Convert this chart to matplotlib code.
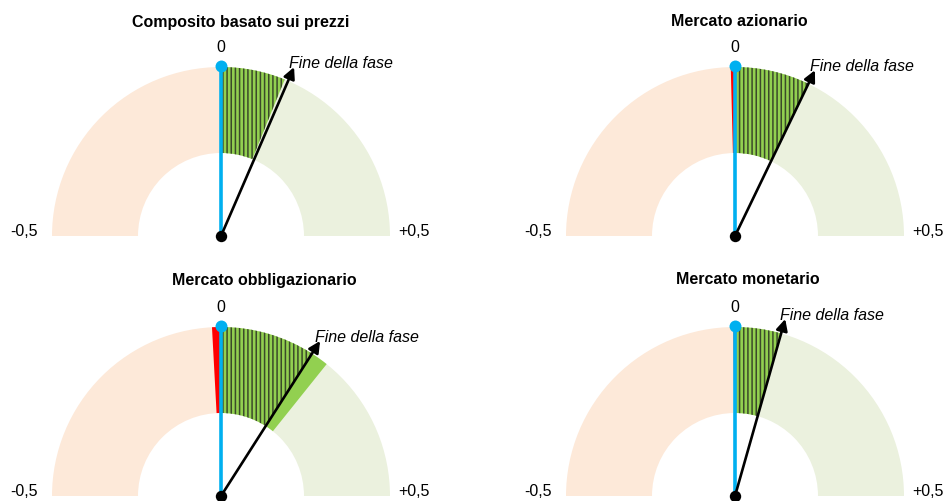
import numpy as np
import matplotlib
matplotlib.use("Agg")
import matplotlib.pyplot as plt
from matplotlib.patches import Wedge

plt.rcParams['font.family'] = ['Liberation Sans', 'DejaVu Sans']
plt.rcParams['hatch.linewidth'] = 1.1

# ---- data ----
titles = ["Composito basato sui prezzi", "Mercato azionario",
          "Mercato obbligazionario", "Mercato monetario"]
red_vals = [0.0, -0.008, -0.017, -0.003]
hatch_vals = [0.123, 0.142, 0.180, 0.086]
band_vals = [0.123, 0.142, 0.215, 0.086]
arrow_vals = [0.130, 0.143, 0.181, 0.088]
scale_min, scale_mid, scale_max = -0.5, 0.0, 0.5
tick_labels = ["-0,5", "0", "+0,5"]
arrow_label = "Fine della fase"

# ---- layout (pixels) ----
W, H = 944, 502
centers = [(221, 237), (735, 237), (221, 497), (735, 497)]
title_pos = [(241, 22), (739, 22), (264, 280), (748, 280)]
R_OUT, R_IN, R_ARROW = 169, 83, 184
FS = 11.5

C_PEACH = "#fde9d9"
C_LGREEN = "#ebf1de"
C_GREEN = "#92d050"
C_DARK = "#3b4a2a"
C_RED = "#ff0000"
C_BLUE = "#00b0f0"

fig = plt.figure(figsize=(W / 100, H / 100), dpi=100)
ax = fig.add_axes([0, 0, 1, 1])
ax.set_xlim(0, W)
ax.set_ylim(0, H)
ax.axis('off')


def ang(v):
    return 90 - (v - scale_mid) / (scale_max - scale_min) * 180


def wedge(cx, cy, v1, v2, **kw):
    lo, hi = min(v1, v2), max(v1, v2)
    if hi - lo <= 0:
        return
    w = Wedge((cx, cy), R_OUT, ang(hi), ang(lo), width=R_OUT - R_IN, **kw)
    ax.add_patch(w)


for i, (cxp, cyp) in enumerate(centers):
    cx, cy = cxp, H - cyp
    # background halves
    wedge(cx, cy, scale_min, scale_mid, facecolor=C_PEACH, lw=0)
    wedge(cx, cy, scale_mid, scale_max, facecolor=C_LGREEN, lw=0)
    # solid band
    wedge(cx, cy, hatch_vals[i], band_vals[i], facecolor=C_GREEN, lw=0)
    # hatched region
    wedge(cx, cy, 0, hatch_vals[i], facecolor=C_GREEN, lw=0)
    wedge(cx, cy, 0, hatch_vals[i], facecolor='none', edgecolor=C_DARK,
          hatch='||||', lw=0)
    # red region
    wedge(cx, cy, red_vals[i], 0, facecolor=C_RED, lw=0)
    # blue zero line and dot
    ax.plot([cx, cx], [cy, cy + R_OUT], color=C_BLUE, lw=2.6,
            solid_capstyle='butt', zorder=5)
    ax.plot([cx], [cy + R_OUT + 1], 'o', color=C_BLUE, ms=8.6, mew=0, zorder=6)
    # arrow
    a = np.deg2rad(ang(arrow_vals[i]))
    tx, ty = cx + R_ARROW * np.cos(a), cy + R_ARROW * np.sin(a)
    ax.annotate('', xy=(tx, ty), xytext=(cx, cy),
                arrowprops=dict(arrowstyle='-|>', color='black', lw=1.9,
                                mutation_scale=17, shrinkA=0, shrinkB=0),
                zorder=7)
    ax.plot([cx], [cy], 'o', color='black', ms=8.2, mew=0, zorder=8)
    ax.text(tx - 5, ty, arrow_label, style='italic', fontsize=FS,
            ha='left', va='baseline', zorder=9)
    # scale labels
    ax.text(cx - 183, cy + 5, tick_labels[0], fontsize=FS, ha='right', va='center')
    ax.text(cx + 177, cy + 5, tick_labels[2], fontsize=FS, ha='left', va='center')
    ax.text(cx, cy + R_OUT + 20, tick_labels[1], fontsize=FS, ha='center', va='center')
    # title
    tx0, ty0 = title_pos[i]
    ax.text(tx0, H - ty0, titles[i], fontsize=FS, fontweight='bold',
            ha='center', va='center')

fig.savefig("out.png", dpi=100)
